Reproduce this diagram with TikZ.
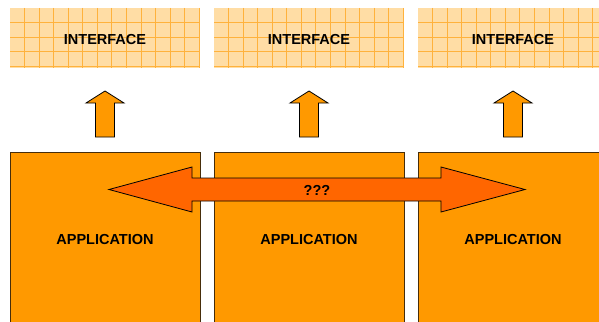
\documentclass[tikz,border=0pt]{standalone}
\usepackage{fontspec}
\setmainfont{Liberation Sans}
\usepackage{tikz}
\usetikzlibrary{positioning}

\definecolor{peach}{RGB}{255,221,165}
\definecolor{gridline}{RGB}{255,178,60}
\definecolor{apporange}{RGB}{255,153,0}
\definecolor{arroworange}{RGB}{255,102,0}
\definecolor{edgebrown}{RGB}{70,45,10}

\tikzset{
  iface/.style={fill=peach,draw=none},
  appbox/.style={fill=apporange,draw=edgebrown,line width=1pt},
  uparrow/.style={fill=apporange,draw=black,line width=0.8pt,line join=miter},
  bigarrow/.style={fill=arroworange,draw=black,line width=0.8pt,line join=miter},
  label/.style={font=\bfseries\fontsize{14.5}{16}\selectfont,text=black,anchor=center,inner sep=0pt}
}

\begin{document}
\begin{tikzpicture}[x=1pt,y=-1pt]
\clip (0,0) rectangle (599,321);
\fill[white] (0,0) rectangle (599,321);

% interface boxes with grid
\foreach \l/\r/\n in {10/200/1,214/404/2,418/608/3}{
\fill[iface] (\l,8) rectangle (\r,68);
\begin{scope}
\clip (\l,8) rectangle (\r,68);
\foreach \k in {1,...,13}
  \draw[gridline,line width=0.9pt] (\l+\k*14.55,8) -- (\l+\k*14.55,68);
\foreach \k in {1,...,4}
  \draw[gridline,line width=0.9pt] (\l,8+\k*14.55) -- (\r,8+\k*14.55);
\end{scope}
\node[label] (iface\n) at ({(\l+\r)/2},40) {INTERFACE};
}

% small arrows
\foreach \c in {105,309,513}
\draw[uparrow] (\c,91) -- (\c+19,103) -- (\c+9.5,103) -- (\c+9.5,137) -- (\c-9.5,137) -- (\c-9.5,103) -- (\c-19,103) -- cycle;

% application boxes
\foreach \l/\r/\n in {10/200/1,214/404/2,418/608/3}{
\draw[appbox] (\l,152) rectangle (\r,330);
\node[label] (app\n) at ({(\l+\r)/2},240) {APPLICATION};
}

% double arrow
\draw[bigarrow] (109,189.5) -- (192,167) -- (192,178) -- (441,178) -- (441,167) -- (525,189.5) -- (441,212) -- (441,201) -- (192,201) -- (192,212) -- cycle;
\node[label] (what) at (317,190) {???};

\end{tikzpicture}
\end{document}
